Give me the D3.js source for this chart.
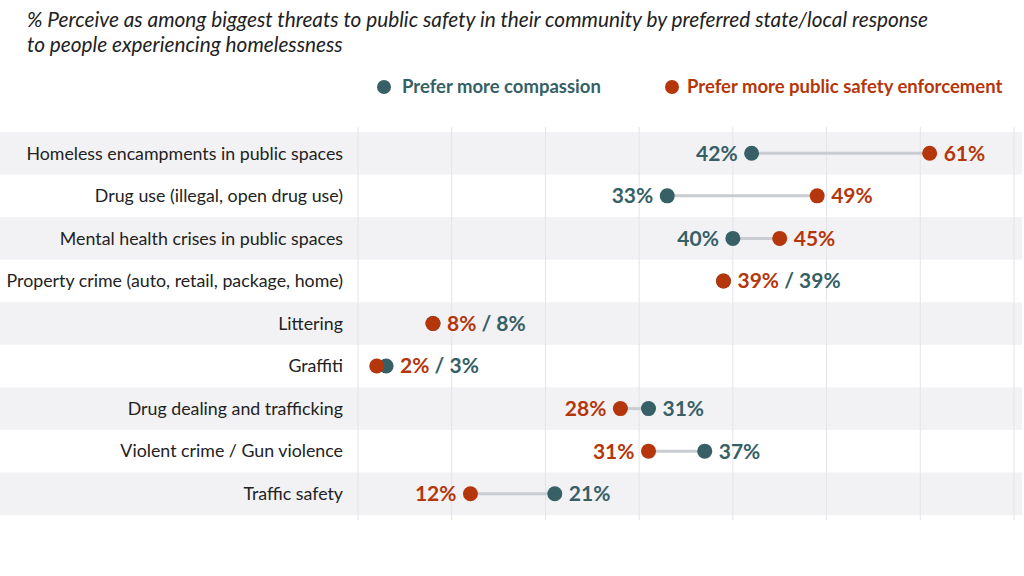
<!DOCTYPE html>
<html>
<head>
<meta charset="utf-8">
<script src="https://cdn.jsdelivr.net/npm/d3@7"></script>
<style>
  html, body { margin: 0; padding: 0; background: #fff; }
  svg { display: block; }
</style>
</head>
<body>
<svg id="chart" width="1024" height="576"></svg>
<script>
const categories = [
  "Homeless encampments in public spaces",
  "Drug use (illegal, open drug use)",
  "Mental health crises in public spaces",
  "Property crime (auto, retail, package, home)",
  "Littering",
  "Graffiti",
  "Drug dealing and trafficking",
  "Violent crime / Gun violence",
  "Traffic safety"
];
const compassion  = [42, 33, 40, 39, 8, 3, 31, 37, 21];
const enforcement = [61, 49, 45, 39, 8, 2, 28, 31, 12];
const seriesNames = ["Prefer more compassion", "Prefer more public safety enforcement"];
const gridTicks = [0, 10, 20, 30, 40, 50, 60, 70];
const titleLines = [
  "% Perceive as among biggest threats to public safety in their community by preferred state/local response",
  "to people experiencing homelessness"
];

const TEAL = "#365f66";
const RED = "#b5360b";
const svg = d3.select("#chart");

const x = d3.scaleLinear().domain([0, 70]).range([358, 1014]);
const y = d3.scaleBand().domain(categories).range([132, 515]).paddingInner(0).paddingOuter(0);

// title
svg.append("g").selectAll("text").data(titleLines).join("text")
  .attr("x", 27).attr("y", (d, i) => 27 + i * 25)
  .attr("font-family", "Lato").attr("font-style", "italic").attr("font-size", 20.8)
  .attr("fill", "#222").text(d => d);

// legend
const legend = svg.append("g");
const legendPos = [{cx: 384, tx: 402, c: TEAL}, {cx: 672, tx: 687, c: RED}];
seriesNames.forEach((name, i) => {
  legend.append("circle").attr("cx", legendPos[i].cx).attr("cy", 87).attr("r", 7).attr("fill", legendPos[i].c);
  legend.append("text").attr("x", legendPos[i].tx).attr("y", 87).attr("dy", "0.35em")
    .attr("font-family", "Lato").attr("font-weight", 700).attr("font-size", 18.5)
    .attr("fill", legendPos[i].c).text(name);
});

// bands
svg.append("g").selectAll("rect").data(categories.filter((d, i) => i % 2 === 0)).join("rect")
  .attr("x", 0).attr("width", 1022)
  .attr("y", d => y(d)).attr("height", y.bandwidth())
  .attr("fill", "#f2f2f5");

// gridlines
svg.append("g").selectAll("line").data(gridTicks).join("line")
  .attr("x1", d => x(d)).attr("x2", d => x(d))
  .attr("y1", 127).attr("y2", 520)
  .attr("stroke", "#e4e4e8").attr("stroke-width", 1);

// category labels
svg.append("g").selectAll("text").data(categories).join("text")
  .attr("x", 343).attr("y", d => y(d) + y.bandwidth() / 2).attr("dy", "0.35em")
  .attr("text-anchor", "end")
  .attr("font-family", "Lato").attr("font-size", 17.8).attr("fill", "#222")
  .text(d => d);

const rows = categories.map((c, i) => ({c, a: compassion[i], b: enforcement[i]}));
const cy = d => y(d.c) + y.bandwidth() / 2;

// connectors
svg.append("g").selectAll("line").data(rows).join("line")
  .attr("x1", d => x(d.a)).attr("x2", d => x(d.b))
  .attr("y1", cy).attr("y2", cy)
  .attr("stroke", "#c9cdd2").attr("stroke-width", 3);

// dots
const R = 7.5;
svg.append("g").selectAll("circle").data(rows).join("circle")
  .attr("cx", d => x(d.a)).attr("cy", cy).attr("r", R).attr("fill", TEAL);
svg.append("g").selectAll("circle").data(rows).join("circle")
  .attr("cx", d => x(d.b)).attr("cy", cy).attr("r", R).attr("fill", RED);

// value labels
const lab = svg.append("g").attr("font-family", "Lato").attr("font-weight", 700).attr("font-size", 21);
const gap = 14;
rows.forEach(d => {
  const yy = cy(d);
  if (Math.abs(d.a - d.b) <= 1) {
    const t = lab.append("text").attr("x", x(Math.max(d.a, d.b)) + gap).attr("y", yy).attr("dy", "0.35em");
    t.append("tspan").attr("fill", RED).text(d.b + "%");
    t.append("tspan").attr("fill", TEAL).text(" / " + d.a + "%");
  } else {
    const lowIsA = d.a < d.b;
    const lo = lowIsA ? d.a : d.b, hi = lowIsA ? d.b : d.a;
    lab.append("text").attr("x", x(lo) - gap).attr("y", yy).attr("dy", "0.35em")
      .attr("text-anchor", "end").attr("fill", lowIsA ? TEAL : RED).text(lo + "%");
    lab.append("text").attr("x", x(hi) + gap).attr("y", yy).attr("dy", "0.35em")
      .attr("fill", lowIsA ? RED : TEAL).text(hi + "%");
  }
});
</script>
</body>
</html>
